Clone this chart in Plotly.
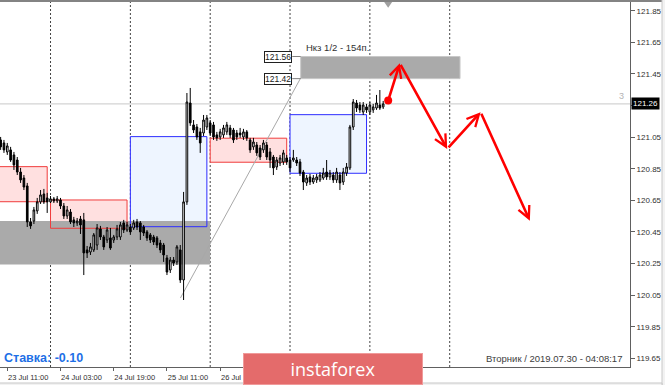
import plotly.graph_objects as go

# ---------------- data (H1 bars, index = hours since 23 Jul 00:00, weekend skipped) ----------------
bar_hour = list(range(9, 125))

opens = [121.032, 121.013, 120.956, 120.969, 120.937, 120.905, 120.829, 120.791, 120.741, 120.513,
         120.519, 120.583, 120.640, 120.690, 120.665, 120.640, 120.659, 120.646, 120.652, 120.614,
         120.551, 120.576, 120.526, 120.507, 120.532, 120.526, 120.336, 120.323, 120.336, 120.367,
         120.469, 120.418, 120.399, 120.412, 120.399, 120.418, 120.418, 120.507, 120.462, 120.481,
         120.475, 120.513, 120.507, 120.481, 120.450, 120.431, 120.418, 120.412, 120.380, 120.367,
         120.285, 120.209, 120.272, 120.260, 120.336, 120.146, 120.640, 121.266, 121.127, 121.114,
         121.083, 121.076, 121.114, 121.140, 121.127, 121.064, 121.051, 121.064, 121.083, 121.108,
         121.095, 121.076, 121.076, 121.051, 121.083, 121.032, 120.988, 121.000, 120.981, 120.969,
         121.000, 120.956, 120.924, 120.861, 120.886, 120.893, 120.918, 120.905, 120.905, 120.905,
         120.893, 120.829, 120.760, 120.798, 120.766, 120.779, 120.779, 120.791, 120.829, 120.798,
         120.810, 120.779, 120.810, 120.766, 120.823, 120.855, 121.114, 121.266, 121.253, 121.209,
         121.241, 121.209, 121.222, 121.234, 121.253, 121.241]
highs = [121.051, 121.032, 121.013, 120.988, 120.956, 120.924, 120.855, 120.810, 120.760, 120.538,
         120.608, 120.665, 120.715, 120.722, 120.697, 120.677, 120.671, 120.677, 120.665, 120.633,
         120.614, 120.595, 120.545, 120.538, 120.551, 120.570, 120.361, 120.380, 120.443, 120.500,
         120.488, 120.431, 120.481, 120.475, 120.431, 120.494, 120.513, 120.526, 120.513, 120.500,
         120.526, 120.532, 120.519, 120.494, 120.462, 120.443, 120.431, 120.424, 120.399, 120.380,
         120.304, 120.291, 120.291, 120.367, 120.367, 120.703, 121.329, 121.361, 121.158, 121.133,
         121.108, 121.190, 121.190, 121.158, 121.146, 121.083, 121.102, 121.127, 121.146, 121.127,
         121.108, 121.095, 121.108, 121.102, 121.095, 121.045, 121.045, 121.019, 121.000, 121.032,
         121.019, 120.981, 120.937, 120.924, 120.937, 120.969, 120.937, 120.924, 120.969, 120.924,
         120.912, 120.842, 120.810, 120.817, 120.810, 120.817, 120.829, 120.855, 120.905, 120.842,
         120.829, 120.855, 120.829, 120.855, 120.886, 121.127, 121.291, 121.285, 121.272, 121.272,
         121.260, 121.272, 121.260, 121.317, 121.348, 121.279]
lows = [120.969, 120.950, 120.937, 120.893, 120.842, 120.810, 120.760, 120.715, 120.481, 120.469,
        120.500, 120.564, 120.627, 120.627, 120.570, 120.633, 120.633, 120.633, 120.595, 120.532,
        120.532, 120.500, 120.481, 120.488, 120.437, 120.177, 120.285, 120.304, 120.323, 120.336,
        120.399, 120.336, 120.380, 120.336, 120.380, 120.399, 120.399, 120.443, 120.450, 120.431,
        120.462, 120.462, 120.399, 120.424, 120.393, 120.380, 120.367, 120.348, 120.317, 120.260,
        120.177, 120.190, 120.234, 120.241, 120.127, 120.019, 120.621, 121.121, 121.076, 121.032,
        120.950, 121.057, 121.095, 121.057, 121.032, 121.026, 121.032, 121.045, 121.064, 121.045,
        121.013, 121.032, 121.045, 121.032, 121.026, 120.950, 120.969, 120.931, 120.905, 120.950,
        120.905, 120.855, 120.810, 120.842, 120.867, 120.874, 120.874, 120.829, 120.893, 120.867,
        120.804, 120.715, 120.741, 120.747, 120.753, 120.760, 120.766, 120.779, 120.779, 120.779,
        120.760, 120.760, 120.715, 120.747, 120.804, 120.842, 121.095, 121.209, 121.203, 121.190,
        121.203, 121.190, 121.203, 121.222, 121.222, 121.228]
closes = [120.988, 120.969, 120.994, 120.905, 120.874, 120.829, 120.779, 120.734, 120.513, 120.488,
          120.589, 120.640, 120.684, 120.640, 120.640, 120.659, 120.646, 120.659, 120.614, 120.551,
          120.589, 120.513, 120.507, 120.519, 120.494, 120.317, 120.317, 120.355, 120.431, 120.475,
          120.418, 120.355, 120.462, 120.348, 120.418, 120.469, 120.494, 120.462, 120.494, 120.450,
          120.507, 120.481, 120.450, 120.443, 120.412, 120.399, 120.386, 120.367, 120.336, 120.304,
          120.196, 120.272, 120.253, 120.355, 120.146, 120.640, 121.272, 121.140, 121.095, 121.051,
          121.013, 121.158, 121.171, 121.076, 121.051, 121.045, 121.083, 121.108, 121.127, 121.064,
          121.032, 121.051, 121.064, 121.083, 121.045, 120.969, 121.019, 120.950, 120.924, 121.013,
          120.924, 120.905, 120.855, 120.905, 120.918, 120.950, 120.893, 120.855, 120.918, 120.886,
          120.823, 120.766, 120.791, 120.766, 120.791, 120.798, 120.810, 120.823, 120.798, 120.823,
          120.779, 120.829, 120.760, 120.829, 120.861, 121.114, 121.272, 121.234, 121.222, 121.253,
          121.222, 121.253, 121.241, 121.266, 121.234, 121.260]

# x-axis labels (bar index, text) - later labels are hidden behind the logo in the original
tick_hours = [11, 27, 43, 59, 75]
tick_texts = ["23 Jul 11:00", "24 Jul 03:00", "24 Jul 19:00", "25 Jul 11:00", ""]
partial_label_hour = 75
partial_label_text = "26 Jul"
price_ticks = [119.65, 119.85, 120.05, 120.25, 120.45, 120.65, 120.85, 121.05, 121.25, 121.45, 121.65, 121.85]
price_tick_texts = ["119.65", "119.85", "120.05", "120.25", "120.45", "120.65", "120.85", "121.05",
                    "", "121.45", "121.65", "121.85"]

day_starts = [24, 48, 72, 96, 120, 144]
bid_price = 121.26

# daily range boxes: (start bar, end bar, top, bottom, colour kind)
box_start = [0, 24, 48, 72, 96]
box_end = [23, 47, 71, 95, 119]
box_top = [120.863, 120.652, 121.053, 121.043, 121.192]
box_bottom = [120.641, 120.473, 120.483, 120.891, 120.821]
box_kind = ["red", "red", "blue", "red", "blue"]

zone_low = dict(x0=0, x1=72, top=120.519, bottom=120.243)
zone_high = dict(x0=99.2, x1=147.1, top=121.56, bottom=121.42)
trend_x = [63.06, 99.2]
trend_y = [120.032, 121.424]

# forecast path
path_x = [125.5, 129.0, 143.25, 153.3, 168.1]
path_y = [121.281, 121.517, 120.975, 121.207, 120.521]

# ---------------- figure ----------------
fig = go.Figure()

fig.add_trace(go.Candlestick(
    x=bar_hour, open=opens, high=highs, low=lows, close=closes,
    increasing=dict(line=dict(color="black", width=1), fillcolor="white"),
    decreasing=dict(line=dict(color="black", width=1), fillcolor="black"),
    whiskerwidth=0, showlegend=False, hoverinfo="skip"))

fig.add_trace(go.Scatter(x=[path_x[0]], y=[path_y[0]], mode="markers",
                         marker=dict(color="#ff0000", size=8), showlegend=False, hoverinfo="skip"))

shapes = []
fills = {"red": "#ffe0e0", "blue": "#eef5ff"}
lines = {"red": "#f03c3c", "blue": "#2d2dff"}
for x0, x1, t, b, k in zip(box_start, box_end, box_top, box_bottom, box_kind):
    shapes.append(dict(type="rect", xref="x", yref="y", x0=x0, x1=x1, y0=b, y1=t,
                       fillcolor=fills[k], line=dict(width=0), layer="below"))
shapes.append(dict(type="rect", xref="x", yref="y", x0=zone_low["x0"], x1=zone_low["x1"],
                   y0=zone_low["bottom"], y1=zone_low["top"], fillcolor="#aaaaaa",
                   line=dict(width=0), layer="below"))
shapes.append(dict(type="rect", xref="x", yref="y", x0=zone_high["x0"], x1=zone_high["x1"],
                   y0=zone_high["bottom"], y1=zone_high["top"], fillcolor="#aaaaaa",
                   line=dict(width=1, color="#c8c8c8"), layer="below"))
for x0, x1, t, b, k in zip(box_start, box_end, box_top, box_bottom, box_kind):
    shapes.append(dict(type="rect", xref="x", yref="y", x0=x0, x1=x1, y0=b, y1=t,
                       fillcolor="rgba(0,0,0,0)", line=dict(width=1, color=lines[k]), layer="below"))
# bid line
shapes.append(dict(type="line", xref="paper", yref="y", x0=0, x1=1, y0=bid_price, y1=bid_price,
                   line=dict(color="#c8c8c8", width=1), layer="below"))
# day separators
for d in day_starts:
    shapes.append(dict(type="line", xref="x", yref="paper", x0=d, x1=d, y0=0, y1=1,
                       line=dict(color="#444444", width=1, dash="2px,2px"), layer="below"))
# trend line
shapes.append(dict(type="line", xref="x", yref="y", x0=trend_x[0], x1=trend_x[1],
                   y0=trend_y[0], y1=trend_y[1], line=dict(color="#a8a8a8", width=1), layer="below"))
# connectors from price labels to zone
for p in [zone_high["top"], zone_high["bottom"]]:
    shapes.append(dict(type="line", xref="x", yref="y", x0=96.66, x1=zone_high["x0"], y0=p, y1=p,
                       line=dict(color="#808080", width=1), layer="below"))
# shift marker at top
shapes.append(dict(type="path", xref="x", yref="paper",
                   path="M 124.3 1 L 126.7 1 L 125.5 0.984 Z", fillcolor="#a0a0a0",
                   line=dict(width=0)))
# frame / window borders
shapes.append(dict(type="line", xref="paper", yref="paper", x0=0, x1=1.0556, y0=1.0027, y1=1.0027,
                   line=dict(color="#5a5a5a", width=1.5)))
shapes.append(dict(type="rect", xref="paper", yref="paper", x0=1.0508, x1=1.06, y0=-0.06, y1=1.01,
                   fillcolor="#f2f2f2", line=dict(color="#c8c8c8", width=1)))
shapes.append(dict(type="rect", xref="paper", yref="paper", x0=-0.01, x1=1.0508, y0=-0.06, y1=-0.0438,
                   fillcolor="#f2f2f2", line=dict(color="#c8c8c8", width=1)))

annotations = []
# forecast arrows
for k in range(1, len(path_x)):
    annotations.append(dict(x=path_x[k], y=path_y[k], ax=path_x[k - 1], ay=path_y[k - 1],
                            xref="x", yref="y", axref="x", ayref="y", text="",
                            showarrow=True, arrowhead=5, arrowsize=0.9, arrowwidth=2.6,
                            arrowcolor="#ff0000", standoff=0))
# zone price labels
for p, txt in [(zone_high["top"], "121.56"), (zone_high["bottom"], "121.42")]:
    annotations.append(dict(x=96.66, y=p, xref="x", yref="y", text=txt, showarrow=False,
                            xanchor="right", yanchor="middle", bgcolor="white",
                            bordercolor="#202020", borderwidth=1, borderpad=0,
                            font=dict(family="Liberation Sans", size=8.5, color="#202020")))
annotations.append(dict(x=100.2, y=121.616, xref="x", yref="y", text="Нкз 1/2 - 154п.",
                        showarrow=False, xanchor="left", yanchor="middle",
                        font=dict(family="Liberation Sans", size=9.5, color="#303030")))
annotations.append(dict(x=0.9873, y=0.7425, xref="paper", yref="paper", text="3", showarrow=False,
                        xanchor="center", yanchor="middle",
                        font=dict(family="Liberation Sans", size=9, color="#b4b4b4")))
annotations.append(dict(x=1.0016, y=bid_price, xref="paper", yref="y", text="121.26", showarrow=False,
                        xanchor="left", yanchor="middle", bgcolor="black", borderpad=1,
                        font=dict(family="Liberation Sans", size=8, color="white")))
annotations.append(dict(x=partial_label_hour, y=-0.0285, xref="x", yref="paper",
                        text=partial_label_text, showarrow=False, xanchor="left", yanchor="middle",
                        borderpad=0, font=dict(family="Liberation Sans", size=7.5, color="#303030")))
annotations.append(dict(x=0.0032, y=0.0255, xref="paper", yref="paper", text="<b>Ставка: -0.10</b>",
                        showarrow=False, xanchor="left", yanchor="middle",
                        font=dict(family="Liberation Sans", size=12.5, color="#1e6fe6")))
annotations.append(dict(x=0.9905, y=0.0230, xref="paper", yref="paper",
                        text="Вторник / 2019.07.30 - 04:08:17", showarrow=False,
                        xanchor="right", yanchor="middle",
                        font=dict(family="Liberation Sans", size=9.5, color="#404040")))
annotations.append(dict(x=0.5286, y=-0.0055, xref="paper", yref="paper", text="instaforex",
                        showarrow=False, xanchor="center", yanchor="middle", width=178, height=30,
                        bgcolor="#e46b6b", borderpad=0, bordercolor="#f09a9a", borderwidth=1,
                        font=dict(family="Open Sans", size=18, color="white")))

fig.update_layout(
    width=665, height=385,
    margin=dict(l=0, r=35, t=2, b=18, autoexpand=False),
    paper_bgcolor="white", plot_bgcolor="white",
    shapes=shapes, annotations=annotations, showlegend=False,
    xaxis=dict(range=[8.81, 198.2], showgrid=False, zeroline=False, showline=True,
               linecolor="#606060", linewidth=1, ticks="outside", ticklen=3, tickcolor="#606060",
               tickvals=tick_hours, ticktext=tick_texts, ticklabelshift=21,
               tickfont=dict(family="Liberation Sans", size=7.5, color="#303030"),
               rangeslider=dict(visible=False), fixedrange=True),
    yaxis=dict(range=[119.595, 121.905], side="right", showgrid=False, zeroline=False,
               showline=True, linecolor="#606060", linewidth=1, ticks="outside", ticklen=4,
               tickcolor="#606060", tickvals=price_ticks, ticktext=price_tick_texts,
               tickfont=dict(family="Liberation Sans", size=8, color="#303030"), fixedrange=True),
)

fig.write_html("out.html")
